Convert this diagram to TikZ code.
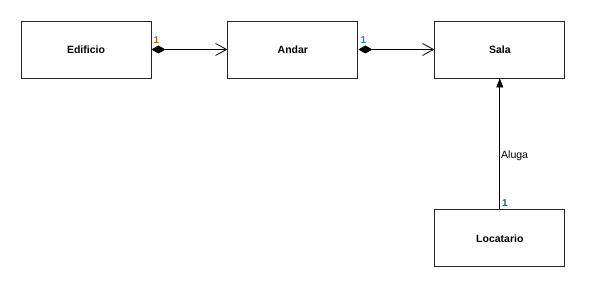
\documentclass[tikz,border=0pt]{standalone}
\usepackage{fontspec}
\setmainfont{Liberation Sans}
\usetikzlibrary{positioning, arrows.meta}

\definecolor{multA}{HTML}{B0651E}
\definecolor{multB}{HTML}{2F7FB0}
\definecolor{multC}{HTML}{1D5C7A}

\begin{document}
\begin{tikzpicture}[
    x=1pt, y=-1pt,
    classe/.style={draw=black!85, line width=0.9pt, minimum width=130pt, minimum height=57pt,
      inner sep=0pt, font=\fontsize{10.5}{12}\selectfont\bfseries},
    composicao/.style={line width=0.8pt,
      {Diamond[length=14pt,width=8pt]}-{Straight Barb[length=11pt,width=12pt,line width=0.8pt]}},
    heranca/.style={line width=0.8pt, -{Triangle[length=9pt,width=7pt]}},
    mult/.style={font=\fontsize{10}{11}\selectfont\bfseries, inner sep=0pt, anchor=south west}
]
\useasboundingbox (0,0) rectangle (606,290);

  % classes
  \node[classe] (edificio) at (86,49.5) {Edificio};
  \node[classe, right=76pt of edificio] (andar) {Andar};
  \node[classe, right=76pt of andar] (sala) {Sala};
  \node[classe, below=131pt of sala] (locatario) {Locatario};

  % associacoes
  \draw[composicao] (edificio) -- (andar);
  \draw[composicao] (andar) -- (sala);
  \draw[heranca] (locatario) -- node[pos=0.41, anchor=west, inner sep=1pt,
    font=\fontsize{10.5}{12}\selectfont] {Aluga} (sala);

  \node[mult, text=multA] at ([xshift=2pt, yshift=6pt]edificio.east) {1};
  \node[mult, text=multB] at ([xshift=2pt, yshift=6pt]andar.east) {1};
  \node[mult, text=multC] at ([xshift=2pt, yshift=3pt]locatario.north) {1};
\end{tikzpicture}
\end{document}
